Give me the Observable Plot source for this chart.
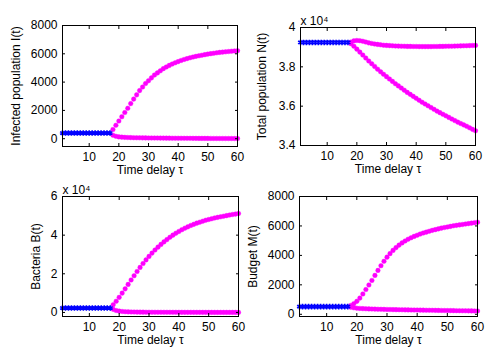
<!DOCTYPE html>
<html><head><meta charset="utf-8">
<script src="https://cdn.jsdelivr.net/npm/d3@7"></script>
<script src="https://cdn.jsdelivr.net/npm/@observablehq/plot@0.6"></script>
<style>
html,body{margin:0;padding:0;background:#fff;}
#fig{position:relative;width:491px;height:351px;overflow:hidden;background:#fff;}
#fig > svg{position:absolute;}
</style></head><body><div id="fig"></div>
<script>
// Time delay values
const tauEq = [1,2,3,4,5,6,7,8,9,10,11,12,13,14,15,16,17];
const tauOsc = [18,19,20,21,22,23,24,25,26,27,28,29,30,31,32,33,34,35,36,37,38,39,40,41,42,43,44,45,46,47,48,49,50,51,52,53,54,55,56,57,58,59,60];
const xTicks = [10,20,30,40,50,60];

// Infected population I(t)
const infectedEq = [400,400,400,400,400,400,400,400,400,400,400,400,400,400,400,400,400];
const infectedMax = [650,950,1250,1550,1850,2150,2480,2800,3100,3400,3650,3900,4100,4300,4500,4650,4800,4950,5070,5180,5280,5370,5450,5530,5600,5660,5720,5770,5820,5860,5900,5940,5980,6010,6040,6070,6100,6120,6140,6160,6180,6200,6220];
const infectedMin = [250,170,130,110,95,85,78,72,67,63,60,57,54,51,49,47,45,43,41,39,37,35,34,32,31,29,28,27,25,24,23,22,21,20,19,18,17,16,15,14,13,12,11];
const infectedTicks = [0,2000,4000,6000,8000];

// Total population N(t)
const totalEq = [39240,39240,39240,39240,39240,39240,39240,39240,39240,39240,39240,39240,39240,39240,39240,39240,39240];
const totalMax = [39260,39320,39340,39330,39300,39260,39220,39190,39160,39140,39120,39100,39090,39080,39070,39060,39055,39050,39045,39040,39040,39035,39035,39030,39030,39030,39030,39030,39035,39035,39040,39040,39045,39050,39050,39055,39060,39065,39070,39075,39080,39085,39090];
const totalMin = [39180,39050,38900,38750,38600,38450,38300,38160,38020,37880,37750,37620,37500,37380,37260,37140,37030,36920,36810,36700,36600,36500,36400,36300,36200,36110,36020,35930,35840,35750,35670,35590,35510,35430,35350,35270,35190,35120,35050,34980,34900,34820,34750];
const totalTicks = [34000,36000,38000,40000];

// Bacteria B(t)
const bacteriaEq = [2300,2300,2300,2300,2300,2300,2300,2300,2300,2300,2300,2300,2300,2300,2300,2300,2300];
const bacteriaMax = [4000,5800,7800,10000,12200,14500,16800,19000,21200,23300,25300,27200,29000,30700,32300,33800,35200,36500,37700,38900,40000,41000,41900,42800,43600,44300,45000,45600,46200,46700,47200,47700,48100,48500,48900,49200,49500,49800,50100,50400,50700,50900,51200];
const bacteriaMin = [1600,1000,700,500,380,300,250,210,180,160,140,130,120,110,100,95,90,85,80,75,70,66,62,58,55,52,49,46,44,42,40,38,36,34,32,30,29,28,27,26,25,24,23];
const bacteriaTicks = [0,20000,40000,60000];

// Budget M(t)
const budgetEq = [520,520,520,520,520,520,520,520,520,520,520,520,520,520,520,520,520];
const budgetMax = [600,720,880,1100,1380,1680,1990,2300,2640,2980,3300,3600,3880,4120,4340,4530,4700,4850,4980,5100,5200,5290,5370,5450,5520,5580,5640,5700,5750,5800,5850,5890,5930,5970,6010,6040,6070,6100,6130,6160,6190,6220,6250];
const budgetMin = [480,440,415,398,385,375,366,358,351,345,339,334,329,324,319,315,311,307,303,299,295,291,288,284,281,277,274,270,267,264,261,257,254,251,248,245,242,239,236,233,230,227,224];
const budgetTicks = [0,2000,4000,6000,8000];

const BLUE = "#0000ff", MAGENTA = "#ff00ff";
const FONT = "'Liberation Sans', Arial, Helvetica, sans-serif";

function panel(cfg) {
  const eq = tauEq.map((t, i) => ({t, v: cfg.eq[i]}));
  const hi = tauOsc.map((t, i) => ({t, v: cfg.hi[i]}));
  const lo = tauOsc.map((t, i) => ({t, v: cfg.lo[i]}));
  const magOpts = {x: "t", y: "v", r: 2.3, fill: MAGENTA, stroke: MAGENTA, strokeOpacity: 0.5, strokeWidth: 0.8};
  const eqOpts = {x: "t", y: "v", symbol: "asterisk", r: 2.6, strokeWidth: 1.6, stroke: BLUE};
  const chart = Plot.plot({
    width: cfg.w, height: cfg.h,
    marginLeft: cfg.mL, marginRight: cfg.mR, marginTop: cfg.mT, marginBottom: cfg.mB,
    style: {fontFamily: FONT, fontSize: "12px", color: "#000", background: "transparent", overflow: "visible"},
    x: {domain: [1, 60]},
    y: {domain: cfg.yDomain},
    marks: [
      Plot.dot(lo, magOpts),
      Plot.dot(hi, magOpts),
      Plot.dot(eq, eqOpts),
      Plot.frame({stroke: "#000", strokeWidth: 1}),
      Plot.axisX({anchor: "bottom", ticks: xTicks, tickSize: -3, tickPadding: 8.5, label: "Time delay τ", labelAnchor: "center", labelOffset: cfg.xLabOff, labelArrow: "none"}),
      Plot.axisX({anchor: "top", ticks: xTicks, tickSize: -3, tickFormat: () => "", label: null}),
      Plot.axisY({anchor: "left", ticks: cfg.yTicks, tickSize: -3, tickPadding: 8, tickFormat: cfg.yFmt, label: cfg.yLabel, labelAnchor: "center", labelOffset: cfg.yLabOff, labelArrow: "none"}),
      Plot.axisY({anchor: "right", ticks: cfg.yTicks, tickSize: -3, tickFormat: () => "", label: null}),
      cfg.exp ? Plot.text([cfg.exp], {frameAnchor: "top-left", text: d => d, textAnchor: "start", lineAnchor: "bottom", dy: -3, fontSize: 12}) : null
    ]
  });
  chart.style.left = cfg.left + "px";
  chart.style.top = cfg.top + "px";
  document.getElementById("fig").append(chart);
}

const plain = d => String(d);
const e4 = d => String(+(d / 1e4).toFixed(1));

panel({left: 0, top: 0, w: 245, h: 175, mL: 62, mR: 8, mT: 25, mB: 29,
  eq: infectedEq, hi: infectedMax, lo: infectedMin, yDomain: [-550, 8000], yTicks: infectedTicks, yFmt: plain,
  yLabel: "Infected population I(t)", yLabOff: 51, xLabOff: 27});
panel({left: 245, top: 0, w: 246, h: 175, mL: 55, mR: 16, mT: 27, mB: 30,
  eq: totalEq, hi: totalMax, lo: totalMin, yDomain: [34000, 40000], yTicks: totalTicks, yFmt: e4,
  yLabel: "Total population N(t)", yLabOff: 43, xLabOff: 27, exp: "x 10⁴"});
panel({left: 0, top: 175, w: 245, h: 176, mL: 62, mR: 7, mT: 21, mB: 35,
  eq: bacteriaEq, hi: bacteriaMax, lo: bacteriaMin, yDomain: [-2100, 60000], yTicks: bacteriaTicks, yFmt: e4,
  yLabel: "Bacteria B(t)", yLabOff: 31, xLabOff: 27, exp: "x 10⁴"});
panel({left: 245, top: 175, w: 246, h: 176, mL: 54, mR: 14, mT: 21, mB: 35,
  eq: budgetEq, hi: budgetMax, lo: budgetMin, yDomain: [-150, 8000], yTicks: budgetTicks, yFmt: plain,
  yLabel: "Budget M(t)", yLabOff: 51, xLabOff: 27});
</script></body></html>
